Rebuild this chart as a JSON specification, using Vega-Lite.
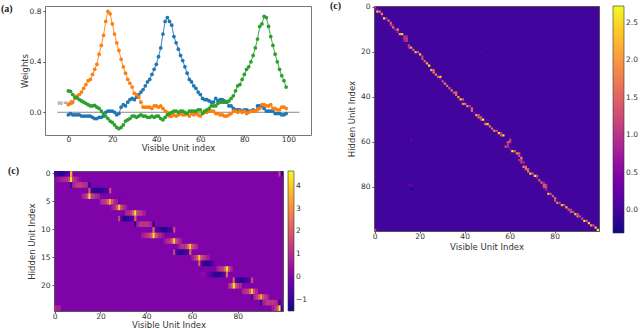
{"$schema":"https://vega.github.io/schema/vega-lite/v6.json","padding":0,"autosize":{"type":"pad"},"background":"white","bounds":"flush","spacing":329,"config":{"font":"DejaVu Sans","axis":{"grid":false,"labelFontSize":7.5,"titleFontSize":8.5,"titleFontWeight":"normal","tickSize":2,"labelColor":"#333","titleColor":"#333","tickColor":"#555","domain":false,"labelPadding":2},"legend":{"labelFontSize":7.5,"labelColor":"#333"},"title":{"font":"Liberation Serif","fontWeight":"bold","fontSize":10,"color":"#222","anchor":"start","frame":"group"}},"datasets":{"left":[{"x":0,"y":0,"v":-0.9},{"x":1,"y":0,"v":-1.1},{"x":2,"y":0,"v":-1.3},{"x":3,"y":0,"v":-1.3},{"x":4,"y":0,"v":-1.1},{"x":5,"y":0,"v":-0.8},{"x":6,"y":0,"v":-0.5},{"x":7,"y":0,"v":3.4},{"x":98,"y":0,"v":1.5},{"x":99,"y":0,"v":-1.0},{"x":1,"y":1,"v":0.4},{"x":2,"y":1,"v":0.6},{"x":3,"y":1,"v":0.7},{"x":4,"y":1,"v":0.9},{"x":5,"y":1,"v":1.1},{"x":6,"y":1,"v":1.5},{"x":7,"y":1,"v":4.5},{"x":8,"y":1,"v":1.5},{"x":9,"y":1,"v":1.0},{"x":10,"y":1,"v":0.6},{"x":11,"y":1,"v":0.3},{"x":7,"y":2,"v":-1.2},{"x":8,"y":2,"v":0.9},{"x":9,"y":2,"v":1.2},{"x":10,"y":2,"v":1.4},{"x":11,"y":2,"v":1.5},{"x":12,"y":2,"v":1.4},{"x":13,"y":2,"v":1.1},{"x":14,"y":2,"v":0.8},{"x":15,"y":2,"v":-1.2},{"x":15,"y":3,"v":2.0},{"x":16,"y":3,"v":-0.8},{"x":17,"y":3,"v":-1.2},{"x":18,"y":3,"v":-1.3},{"x":19,"y":3,"v":-1.3},{"x":20,"y":3,"v":-1.2},{"x":21,"y":3,"v":-1.1},{"x":22,"y":3,"v":-0.9},{"x":23,"y":3,"v":-0.6},{"x":24,"y":3,"v":1.6},{"x":12,"y":4,"v":0.7},{"x":13,"y":4,"v":1.0},{"x":14,"y":4,"v":1.6},{"x":15,"y":4,"v":4.5},{"x":16,"y":4,"v":1.6},{"x":17,"y":4,"v":1.2},{"x":18,"y":4,"v":1.0},{"x":19,"y":4,"v":0.7},{"x":20,"y":5,"v":0.8},{"x":21,"y":5,"v":1.2},{"x":22,"y":5,"v":1.5},{"x":23,"y":5,"v":2.2},{"x":24,"y":5,"v":3.5},{"x":25,"y":5,"v":2.0},{"x":26,"y":5,"v":1.0},{"x":27,"y":5,"v":0.6},{"x":28,"y":5,"v":-0.3},{"x":25,"y":6,"v":0.6},{"x":26,"y":6,"v":1.0},{"x":27,"y":6,"v":1.9},{"x":28,"y":6,"v":4.1},{"x":29,"y":6,"v":1.9},{"x":30,"y":6,"v":1.0},{"x":31,"y":6,"v":0.6},{"x":31,"y":7,"v":0.8},{"x":32,"y":7,"v":1.0},{"x":33,"y":7,"v":1.3},{"x":34,"y":7,"v":2.2},{"x":35,"y":7,"v":4.5},{"x":36,"y":7,"v":1.8},{"x":37,"y":7,"v":1.3},{"x":38,"y":7,"v":1.0},{"x":39,"y":7,"v":0.7},{"x":28,"y":8,"v":1.5},{"x":29,"y":8,"v":-0.7},{"x":30,"y":8,"v":-1.3},{"x":31,"y":8,"v":-1.3},{"x":32,"y":8,"v":-1.2},{"x":33,"y":8,"v":-1.0},{"x":34,"y":8,"v":-0.6},{"x":35,"y":8,"v":2.0},{"x":35,"y":9,"v":-1.3},{"x":36,"y":9,"v":0.8},{"x":37,"y":9,"v":1.1},{"x":38,"y":9,"v":1.3},{"x":39,"y":9,"v":1.4},{"x":40,"y":9,"v":1.3},{"x":41,"y":9,"v":1.1},{"x":42,"y":9,"v":0.7},{"x":43,"y":9,"v":-1.3},{"x":43,"y":10,"v":2.4},{"x":44,"y":10,"v":-0.4},{"x":45,"y":10,"v":-0.9},{"x":46,"y":10,"v":-1.2},{"x":47,"y":10,"v":-1.3},{"x":48,"y":10,"v":-1.3},{"x":49,"y":10,"v":-1.2},{"x":50,"y":10,"v":-0.9},{"x":51,"y":10,"v":-0.5},{"x":52,"y":10,"v":1.6},{"x":38,"y":11,"v":0.6},{"x":39,"y":11,"v":0.9},{"x":40,"y":11,"v":1.2},{"x":41,"y":11,"v":1.4},{"x":42,"y":11,"v":2.0},{"x":43,"y":11,"v":4.6},{"x":44,"y":11,"v":1.8},{"x":45,"y":11,"v":1.3},{"x":46,"y":11,"v":1.0},{"x":47,"y":11,"v":0.6},{"x":48,"y":12,"v":0.6},{"x":49,"y":12,"v":1.0},{"x":50,"y":12,"v":1.3},{"x":51,"y":12,"v":2.0},{"x":52,"y":12,"v":4.2},{"x":53,"y":12,"v":1.8},{"x":54,"y":12,"v":1.1},{"x":55,"y":12,"v":0.6},{"x":54,"y":13,"v":0.6},{"x":55,"y":13,"v":1.0},{"x":56,"y":13,"v":1.2},{"x":57,"y":13,"v":1.4},{"x":58,"y":13,"v":2.2},{"x":59,"y":13,"v":4.2},{"x":60,"y":13,"v":1.9},{"x":61,"y":13,"v":1.2},{"x":62,"y":13,"v":0.8},{"x":52,"y":14,"v":1.6},{"x":53,"y":14,"v":-0.8},{"x":54,"y":14,"v":-1.2},{"x":55,"y":14,"v":-1.3},{"x":56,"y":14,"v":-1.2},{"x":57,"y":14,"v":-1.0},{"x":58,"y":14,"v":-0.6},{"x":59,"y":14,"v":2.0},{"x":60,"y":15,"v":0.7},{"x":61,"y":15,"v":1.1},{"x":62,"y":15,"v":1.9},{"x":63,"y":15,"v":4.2},{"x":64,"y":15,"v":1.8},{"x":65,"y":15,"v":1.3},{"x":66,"y":15,"v":1.0},{"x":67,"y":15,"v":0.6},{"x":63,"y":16,"v":2.0},{"x":64,"y":16,"v":-0.6},{"x":65,"y":16,"v":-1.2},{"x":66,"y":16,"v":-1.3},{"x":67,"y":16,"v":-1.2},{"x":68,"y":16,"v":-1.0},{"x":69,"y":16,"v":-0.6},{"x":70,"y":16,"v":-0.1},{"x":71,"y":17,"v":0.8},{"x":72,"y":17,"v":1.1},{"x":73,"y":17,"v":1.4},{"x":74,"y":17,"v":2.2},{"x":75,"y":17,"v":4.4},{"x":76,"y":17,"v":1.8},{"x":77,"y":17,"v":0.9},{"x":64,"y":18,"v":0.3},{"x":65,"y":18,"v":0.3},{"x":66,"y":18,"v":0.1},{"x":67,"y":18,"v":-0.2},{"x":68,"y":18,"v":-0.7},{"x":69,"y":18,"v":-1.0},{"x":70,"y":18,"v":-1.3},{"x":71,"y":18,"v":-1.3},{"x":72,"y":18,"v":-1.2},{"x":73,"y":18,"v":-1.0},{"x":74,"y":18,"v":-0.6},{"x":75,"y":18,"v":2.2},{"x":78,"y":19,"v":2.0},{"x":79,"y":19,"v":-0.6},{"x":80,"y":19,"v":-1.1},{"x":81,"y":19,"v":-1.3},{"x":82,"y":19,"v":-1.3},{"x":83,"y":19,"v":-1.1},{"x":84,"y":19,"v":-0.9},{"x":85,"y":19,"v":-0.5},{"x":86,"y":19,"v":1.6},{"x":76,"y":20,"v":1.0},{"x":77,"y":20,"v":1.8},{"x":78,"y":20,"v":4.5},{"x":79,"y":20,"v":1.9},{"x":80,"y":20,"v":1.3},{"x":81,"y":20,"v":0.9},{"x":82,"y":21,"v":0.8},{"x":83,"y":21,"v":1.1},{"x":84,"y":21,"v":1.4},{"x":85,"y":21,"v":2.2},{"x":86,"y":21,"v":4.0},{"x":87,"y":21,"v":1.7},{"x":88,"y":21,"v":0.9},{"x":86,"y":22,"v":-0.8},{"x":87,"y":22,"v":0.9},{"x":88,"y":22,"v":1.3},{"x":89,"y":22,"v":2.0},{"x":90,"y":22,"v":3.5},{"x":91,"y":22,"v":1.9},{"x":92,"y":22,"v":1.2},{"x":93,"y":22,"v":0.7},{"x":90,"y":23,"v":-1.2},{"x":91,"y":23,"v":0.8},{"x":92,"y":23,"v":1.1},{"x":93,"y":23,"v":1.3},{"x":94,"y":23,"v":1.4},{"x":95,"y":23,"v":1.3},{"x":96,"y":23,"v":1.1},{"x":97,"y":23,"v":0.8},{"x":98,"y":23,"v":-1.2},{"x":0,"y":24,"v":0.9},{"x":1,"y":24,"v":0.9},{"x":2,"y":24,"v":0.7},{"x":95,"y":24,"v":0.6},{"x":96,"y":24,"v":1.1},{"x":97,"y":24,"v":1.8},{"x":98,"y":24,"v":4.5},{"x":99,"y":24,"v":-0.8}],"right":[{"x":0,"y":0,"v":1.0},{"x":0,"y":1,"v":0.7},{"x":1,"y":1,"v":0.5},{"x":1,"y":2,"v":2.3},{"x":2,"y":2,"v":1.7},{"x":3,"y":3,"v":1.8},{"x":3,"y":4,"v":0.5},{"x":4,"y":5,"v":2.6},{"x":5,"y":5,"v":1.0},{"x":6,"y":6,"v":1.6},{"x":7,"y":7,"v":1.4},{"x":7,"y":8,"v":1.1},{"x":8,"y":8,"v":0.6},{"x":8,"y":9,"v":1.7},{"x":10,"y":10,"v":2.2},{"x":9,"y":10,"v":0.8},{"x":10,"y":11,"v":0.7},{"x":11,"y":12,"v":2.0},{"x":12,"y":12,"v":2.4},{"x":13,"y":13,"v":1.0},{"x":14,"y":13,"v":0.9},{"x":13,"y":14,"v":1.1},{"x":14,"y":14,"v":1.3},{"x":13,"y":15,"v":0.7},{"x":14,"y":15,"v":1.1},{"x":15,"y":17,"v":1.2},{"x":16,"y":18,"v":2.2},{"x":15,"y":18,"v":1.0},{"x":17,"y":19,"v":1.4},{"x":18,"y":20,"v":2.3},{"x":19,"y":20,"v":1.3},{"x":20,"y":21,"v":2.4},{"x":21,"y":22,"v":1.2},{"x":21,"y":23,"v":1.3},{"x":22,"y":24,"v":1.5},{"x":23,"y":25,"v":2.1},{"x":24,"y":26,"v":2.7},{"x":25,"y":27,"v":0.4},{"x":25,"y":28,"v":2.3},{"x":26,"y":28,"v":1.5},{"x":26,"y":29,"v":1.9},{"x":27,"y":30,"v":1.8},{"x":28,"y":31,"v":1.5},{"x":29,"y":31,"v":2.4},{"x":29,"y":32,"v":0.4},{"x":30,"y":33,"v":1.3},{"x":31,"y":34,"v":1.8},{"x":32,"y":35,"v":1.6},{"x":33,"y":36,"v":1.4},{"x":34,"y":37,"v":1.8},{"x":35,"y":38,"v":1.4},{"x":36,"y":38,"v":1.7},{"x":36,"y":39,"v":1.6},{"x":37,"y":40,"v":2.0},{"x":38,"y":41,"v":2.5},{"x":39,"y":41,"v":1.4},{"x":39,"y":43,"v":1.8},{"x":40,"y":43,"v":1.6},{"x":41,"y":44,"v":2.0},{"x":42,"y":44,"v":1.0},{"x":43,"y":45,"v":1.5},{"x":43,"y":46,"v":1.7},{"x":44,"y":47,"v":0.4},{"x":45,"y":48,"v":2.2},{"x":46,"y":48,"v":1.3},{"x":46,"y":49,"v":1.6},{"x":47,"y":49,"v":1.5},{"x":48,"y":50,"v":2.7},{"x":47,"y":50,"v":1.2},{"x":49,"y":51,"v":0.4},{"x":49,"y":52,"v":1.7},{"x":50,"y":52,"v":2.6},{"x":51,"y":53,"v":1.6},{"x":52,"y":54,"v":1.6},{"x":53,"y":55,"v":1.9},{"x":54,"y":55,"v":1.1},{"x":55,"y":56,"v":2.4},{"x":56,"y":56,"v":1.0},{"x":56,"y":57,"v":1.3},{"x":57,"y":57,"v":2.5},{"x":60,"y":59,"v":1.2},{"x":59,"y":60,"v":1.3},{"x":60,"y":60,"v":1.1},{"x":59,"y":61,"v":1.1},{"x":58,"y":62,"v":1.3},{"x":59,"y":62,"v":1.0},{"x":60,"y":63,"v":0.5},{"x":61,"y":64,"v":2.7},{"x":62,"y":64,"v":1.5},{"x":63,"y":65,"v":1.8},{"x":64,"y":65,"v":1.4},{"x":64,"y":66,"v":1.3},{"x":65,"y":67,"v":1.9},{"x":64,"y":68,"v":0.9},{"x":65,"y":68,"v":1.2},{"x":65,"y":69,"v":1.1},{"x":66,"y":69,"v":1.0},{"x":66,"y":70,"v":0.4},{"x":66,"y":71,"v":1.9},{"x":67,"y":71,"v":1.6},{"x":67,"y":72,"v":1.6},{"x":68,"y":72,"v":1.3},{"x":68,"y":73,"v":1.7},{"x":69,"y":74,"v":2.5},{"x":70,"y":74,"v":1.3},{"x":71,"y":75,"v":2.6},{"x":72,"y":75,"v":1.3},{"x":72,"y":76,"v":0.6},{"x":73,"y":77,"v":1.5},{"x":74,"y":78,"v":1.6},{"x":75,"y":78,"v":0.8},{"x":75,"y":79,"v":1.5},{"x":76,"y":79,"v":1.1},{"x":75,"y":80,"v":1.3},{"x":76,"y":80,"v":1.2},{"x":76,"y":81,"v":0.9},{"x":77,"y":82,"v":0.4},{"x":77,"y":83,"v":2.3},{"x":78,"y":83,"v":1.3},{"x":79,"y":84,"v":1.5},{"x":80,"y":85,"v":1.7},{"x":80,"y":86,"v":1.3},{"x":81,"y":87,"v":1.9},{"x":82,"y":87,"v":1.0},{"x":83,"y":88,"v":2.2},{"x":84,"y":88,"v":1.2},{"x":85,"y":89,"v":2.3},{"x":86,"y":90,"v":1.5},{"x":87,"y":90,"v":1.0},{"x":87,"y":91,"v":1.4},{"x":88,"y":91,"v":1.2},{"x":89,"y":92,"v":2.4},{"x":90,"y":92,"v":1.2},{"x":90,"y":93,"v":1.7},{"x":91,"y":93,"v":1.1},{"x":92,"y":94,"v":1.2},{"x":93,"y":95,"v":2.6},{"x":94,"y":95,"v":1.4},{"x":95,"y":96,"v":2.4},{"x":96,"y":97,"v":2.0},{"x":97,"y":97,"v":1.2},{"x":98,"y":98,"v":2.3},{"x":99,"y":99,"v":2.7},{"x":0,"y":99,"v":1.2},{"x":16,"y":59,"v":0.35},{"x":16,"y":79,"v":0.3},{"x":15,"y":79,"v":0.25},{"x":16,"y":81,"v":-0.25},{"x":17,"y":81,"v":-0.2},{"x":36,"y":13,"v":-0.15},{"x":80,"y":30,"v":0.2},{"x":47,"y":20,"v":0.18},{"x":94,"y":66,"v":0.2},{"x":75,"y":25,"v":-0.15}]},"hconcat":[{"bounds":"flush","spacing":36,"vconcat":[{"width":266,"height":129,"title":{"text":"(a)","dx":-44,"dy":8,"offset":0},"view":{"stroke":"#777","strokeWidth":1},"data":{"values":[{"x":-5,"w":0,"s":"w=0","ty":0.07}]},"layer":[{"mark":{"type":"line","color":"#888","strokeWidth":1},"data":{"values":[{"x":-5,"w":0},{"x":105,"w":0}]},"encoding":{"x":{"field":"x","type":"quantitative","scale":{"domain":[-10.6,110.3],"nice":false,"zero":false},"axis":{"values":[0,20,40,60,80,100],"title":"Visible Unit index","labelPadding":-2,"titlePadding":1}},"y":{"field":"w","type":"quantitative","scale":{"domain":[-0.18,0.842],"nice":false,"zero":false},"axis":{"values":[0,0.2,0.4,0.6,0.8],"format":".1f","title":"Weights","titlePadding":0}}}},{"mark":{"type":"text","align":"left","fontSize":7,"color":"#777"},"encoding":{"x":{"field":"x","type":"quantitative"},"y":{"field":"ty","type":"quantitative"},"text":{"field":"s"}}},{"data":{"values":[{"s":"A","x":0,"w":-0.02},{"s":"A","x":1,"w":-0.01},{"s":"A","x":2,"w":-0.02},{"s":"A","x":3,"w":-0.02},{"s":"A","x":4,"w":-0.02},{"s":"A","x":5,"w":-0.02},{"s":"A","x":6,"w":-0.03},{"s":"A","x":7,"w":-0.03},{"s":"A","x":8,"w":-0.03},{"s":"A","x":9,"w":-0.03},{"s":"A","x":10,"w":-0.03},{"s":"A","x":11,"w":-0.04},{"s":"A","x":12,"w":-0.05},{"s":"A","x":13,"w":-0.05},{"s":"A","x":14,"w":-0.04},{"s":"A","x":15,"w":-0.04},{"s":"A","x":16,"w":-0.03},{"s":"A","x":17,"w":0},{"s":"A","x":18,"w":0.01},{"s":"A","x":19,"w":0.01},{"s":"A","x":20,"w":0.01},{"s":"A","x":21,"w":0},{"s":"A","x":22,"w":-0.02},{"s":"A","x":23,"w":-0.01},{"s":"A","x":24,"w":0.04},{"s":"A","x":25,"w":0.06},{"s":"A","x":26,"w":0.05},{"s":"A","x":27,"w":0.08},{"s":"A","x":28,"w":0.1},{"s":"A","x":29,"w":0.11},{"s":"A","x":30,"w":0.1},{"s":"A","x":31,"w":0.12},{"s":"A","x":32,"w":0.14},{"s":"A","x":33,"w":0.16},{"s":"A","x":34,"w":0.18},{"s":"A","x":35,"w":0.21},{"s":"A","x":36,"w":0.24},{"s":"A","x":37,"w":0.26},{"s":"A","x":38,"w":0.3},{"s":"A","x":39,"w":0.34},{"s":"A","x":40,"w":0.38},{"s":"A","x":41,"w":0.44},{"s":"A","x":42,"w":0.51},{"s":"A","x":43,"w":0.62},{"s":"A","x":44,"w":0.72},{"s":"A","x":45,"w":0.75},{"s":"A","x":46,"w":0.72},{"s":"A","x":47,"w":0.69},{"s":"A","x":48,"w":0.6},{"s":"A","x":49,"w":0.55},{"s":"A","x":50,"w":0.5},{"s":"A","x":51,"w":0.45},{"s":"A","x":52,"w":0.41},{"s":"A","x":53,"w":0.36},{"s":"A","x":54,"w":0.31},{"s":"A","x":55,"w":0.26},{"s":"A","x":56,"w":0.24},{"s":"A","x":57,"w":0.21},{"s":"A","x":58,"w":0.19},{"s":"A","x":59,"w":0.16},{"s":"A","x":60,"w":0.14},{"s":"A","x":61,"w":0.11},{"s":"A","x":62,"w":0.1},{"s":"A","x":63,"w":0.1},{"s":"A","x":64,"w":0.09},{"s":"A","x":65,"w":0.08},{"s":"A","x":66,"w":0.08},{"s":"A","x":67,"w":0.11},{"s":"A","x":68,"w":0.09},{"s":"A","x":69,"w":0.1},{"s":"A","x":70,"w":0.1},{"s":"A","x":71,"w":0.09},{"s":"A","x":72,"w":0.08},{"s":"A","x":73,"w":0.05},{"s":"A","x":74,"w":0.05},{"s":"A","x":75,"w":0.03},{"s":"A","x":76,"w":0.02},{"s":"A","x":77,"w":0.02},{"s":"A","x":78,"w":0.02},{"s":"A","x":79,"w":0.01},{"s":"A","x":80,"w":0.02},{"s":"A","x":81,"w":0.02},{"s":"A","x":82,"w":0.01},{"s":"A","x":83,"w":0.01},{"s":"A","x":84,"w":0.02},{"s":"A","x":85,"w":0.01},{"s":"A","x":86,"w":0.05},{"s":"A","x":87,"w":0.05},{"s":"A","x":88,"w":0.05},{"s":"A","x":89,"w":0.03},{"s":"A","x":90,"w":0.01},{"s":"A","x":91,"w":0.01},{"s":"A","x":92,"w":0.01},{"s":"A","x":93,"w":0.01},{"s":"A","x":94,"w":-0.01},{"s":"A","x":95,"w":-0.01},{"s":"A","x":96,"w":-0.01},{"s":"A","x":97,"w":-0.02},{"s":"A","x":98,"w":-0.02},{"s":"A","x":99,"w":-0.01},{"s":"B","x":0,"w":0.06},{"s":"B","x":1,"w":0.07},{"s":"B","x":2,"w":0.08},{"s":"B","x":3,"w":0.11},{"s":"B","x":4,"w":0.13},{"s":"B","x":5,"w":0.14},{"s":"B","x":6,"w":0.16},{"s":"B","x":7,"w":0.19},{"s":"B","x":8,"w":0.22},{"s":"B","x":9,"w":0.25},{"s":"B","x":10,"w":0.26},{"s":"B","x":11,"w":0.3},{"s":"B","x":12,"w":0.34},{"s":"B","x":13,"w":0.38},{"s":"B","x":14,"w":0.46},{"s":"B","x":15,"w":0.53},{"s":"B","x":16,"w":0.61},{"s":"B","x":17,"w":0.72},{"s":"B","x":18,"w":0.8},{"s":"B","x":19,"w":0.78},{"s":"B","x":20,"w":0.7},{"s":"B","x":21,"w":0.62},{"s":"B","x":22,"w":0.55},{"s":"B","x":23,"w":0.49},{"s":"B","x":24,"w":0.42},{"s":"B","x":25,"w":0.36},{"s":"B","x":26,"w":0.31},{"s":"B","x":27,"w":0.26},{"s":"B","x":28,"w":0.23},{"s":"B","x":29,"w":0.2},{"s":"B","x":30,"w":0.15},{"s":"B","x":31,"w":0.14},{"s":"B","x":32,"w":0.12},{"s":"B","x":33,"w":0.08},{"s":"B","x":34,"w":0.04},{"s":"B","x":35,"w":0.04},{"s":"B","x":36,"w":0.04},{"s":"B","x":37,"w":0.04},{"s":"B","x":38,"w":0.03},{"s":"B","x":39,"w":0.05},{"s":"B","x":40,"w":0.05},{"s":"B","x":41,"w":0.04},{"s":"B","x":42,"w":0.05},{"s":"B","x":43,"w":0.03},{"s":"B","x":44,"w":0.01},{"s":"B","x":45,"w":0},{"s":"B","x":46,"w":-0.03},{"s":"B","x":47,"w":-0.03},{"s":"B","x":48,"w":-0.02},{"s":"B","x":49,"w":-0.03},{"s":"B","x":50,"w":-0.02},{"s":"B","x":51,"w":-0.01},{"s":"B","x":52,"w":-0.02},{"s":"B","x":53,"w":-0.02},{"s":"B","x":54,"w":-0.01},{"s":"B","x":55,"w":-0.03},{"s":"B","x":56,"w":-0.01},{"s":"B","x":57,"w":-0.02},{"s":"B","x":58,"w":-0.01},{"s":"B","x":59,"w":-0.02},{"s":"B","x":60,"w":-0.03},{"s":"B","x":61,"w":0},{"s":"B","x":62,"w":0},{"s":"B","x":63,"w":0},{"s":"B","x":64,"w":0.01},{"s":"B","x":65,"w":0.01},{"s":"B","x":66,"w":0.01},{"s":"B","x":67,"w":-0.01},{"s":"B","x":68,"w":-0.01},{"s":"B","x":69,"w":-0.02},{"s":"B","x":70,"w":-0.02},{"s":"B","x":71,"w":-0.03},{"s":"B","x":72,"w":-0.03},{"s":"B","x":73,"w":-0.02},{"s":"B","x":74,"w":-0.01},{"s":"B","x":75,"w":0.01},{"s":"B","x":76,"w":0.01},{"s":"B","x":77,"w":0},{"s":"B","x":78,"w":0.01},{"s":"B","x":79,"w":0},{"s":"B","x":80,"w":0.01},{"s":"B","x":81,"w":-0.01},{"s":"B","x":82,"w":0},{"s":"B","x":83,"w":0.01},{"s":"B","x":84,"w":0.01},{"s":"B","x":85,"w":0.01},{"s":"B","x":86,"w":0.02},{"s":"B","x":87,"w":0.03},{"s":"B","x":88,"w":0.06},{"s":"B","x":89,"w":0.06},{"s":"B","x":90,"w":0.05},{"s":"B","x":91,"w":0.05},{"s":"B","x":92,"w":0.06},{"s":"B","x":93,"w":0.03},{"s":"B","x":94,"w":0.03},{"s":"B","x":95,"w":0.02},{"s":"B","x":96,"w":0.02},{"s":"B","x":97,"w":0.04},{"s":"B","x":98,"w":0.04},{"s":"B","x":99,"w":0.03},{"s":"C","x":0,"w":0.17},{"s":"C","x":1,"w":0.165},{"s":"C","x":2,"w":0.14},{"s":"C","x":3,"w":0.12},{"s":"C","x":4,"w":0.115},{"s":"C","x":5,"w":0.1},{"s":"C","x":6,"w":0.09},{"s":"C","x":7,"w":0.08},{"s":"C","x":8,"w":0.07},{"s":"C","x":9,"w":0.06},{"s":"C","x":10,"w":0.05},{"s":"C","x":11,"w":0.05},{"s":"C","x":12,"w":0.055},{"s":"C","x":13,"w":0.04},{"s":"C","x":14,"w":0.03},{"s":"C","x":15,"w":0.01},{"s":"C","x":16,"w":-0.01},{"s":"C","x":17,"w":-0.03},{"s":"C","x":18,"w":-0.05},{"s":"C","x":19,"w":-0.07},{"s":"C","x":20,"w":-0.08},{"s":"C","x":21,"w":-0.1},{"s":"C","x":22,"w":-0.12},{"s":"C","x":23,"w":-0.13},{"s":"C","x":24,"w":-0.12},{"s":"C","x":25,"w":-0.1},{"s":"C","x":26,"w":-0.07},{"s":"C","x":27,"w":-0.06},{"s":"C","x":28,"w":-0.05},{"s":"C","x":29,"w":-0.03},{"s":"C","x":30,"w":-0.03},{"s":"C","x":31,"w":-0.04},{"s":"C","x":32,"w":-0.03},{"s":"C","x":33,"w":-0.02},{"s":"C","x":34,"w":-0.03},{"s":"C","x":35,"w":-0.03},{"s":"C","x":36,"w":-0.04},{"s":"C","x":37,"w":-0.04},{"s":"C","x":38,"w":-0.03},{"s":"C","x":39,"w":-0.04},{"s":"C","x":40,"w":-0.03},{"s":"C","x":41,"w":-0.03},{"s":"C","x":42,"w":-0.05},{"s":"C","x":43,"w":-0.06},{"s":"C","x":44,"w":-0.04},{"s":"C","x":45,"w":-0.02},{"s":"C","x":46,"w":-0.01},{"s":"C","x":47,"w":0},{"s":"C","x":48,"w":0.01},{"s":"C","x":49,"w":0.01},{"s":"C","x":50,"w":0},{"s":"C","x":51,"w":0.01},{"s":"C","x":52,"w":0.01},{"s":"C","x":53,"w":0},{"s":"C","x":54,"w":-0.01},{"s":"C","x":55,"w":0.01},{"s":"C","x":56,"w":0.01},{"s":"C","x":57,"w":0.01},{"s":"C","x":58,"w":0.01},{"s":"C","x":59,"w":0.02},{"s":"C","x":60,"w":0.02},{"s":"C","x":61,"w":-0.01},{"s":"C","x":62,"w":0.01},{"s":"C","x":63,"w":0.02},{"s":"C","x":64,"w":0.03},{"s":"C","x":65,"w":0.05},{"s":"C","x":66,"w":0.05},{"s":"C","x":67,"w":0.05},{"s":"C","x":68,"w":0.07},{"s":"C","x":69,"w":0.08},{"s":"C","x":70,"w":0.08},{"s":"C","x":71,"w":0.08},{"s":"C","x":72,"w":0.08},{"s":"C","x":73,"w":0.09},{"s":"C","x":74,"w":0.11},{"s":"C","x":75,"w":0.13},{"s":"C","x":76,"w":0.17},{"s":"C","x":77,"w":0.21},{"s":"C","x":78,"w":0.22},{"s":"C","x":79,"w":0.26},{"s":"C","x":80,"w":0.3},{"s":"C","x":81,"w":0.34},{"s":"C","x":82,"w":0.36},{"s":"C","x":83,"w":0.4},{"s":"C","x":84,"w":0.45},{"s":"C","x":85,"w":0.51},{"s":"C","x":86,"w":0.58},{"s":"C","x":87,"w":0.68},{"s":"C","x":88,"w":0.7},{"s":"C","x":89,"w":0.76},{"s":"C","x":90,"w":0.75},{"s":"C","x":91,"w":0.68},{"s":"C","x":92,"w":0.6},{"s":"C","x":93,"w":0.53},{"s":"C","x":94,"w":0.46},{"s":"C","x":95,"w":0.4},{"s":"C","x":96,"w":0.34},{"s":"C","x":97,"w":0.29},{"s":"C","x":98,"w":0.25},{"s":"C","x":99,"w":0.2}]},"mark":{"type":"line","strokeWidth":0.9,"point":{"size":14,"filled":true,"opacity":1}},"encoding":{"x":{"field":"x","type":"quantitative"},"y":{"field":"w","type":"quantitative"},"color":{"field":"s","type":"nominal","legend":null,"scale":{"domain":["A","B","C"],"range":["#1f77b4","#ff7f0e","#2ca02c"]}}}}]},{"bounds":"flush","spacing":0,"hconcat":[{"width":9,"height":1,"view":{"stroke":null},"mark":{"type":"rule","opacity":0},"encoding":{}},{"width":229,"height":140,"title":{"text":"(c)","dx":-46,"dy":7,"offset":0},"view":{"fill":"#7e03a8","stroke":"#555"},"data":{"name":"left"},"mark":{"type":"rect"},"encoding":{"x":{"field":"x","type":"ordinal","scale":{"domain":[0,1,2,3,4,5,6,7,8,9,10,11,12,13,14,15,16,17,18,19,20,21,22,23,24,25,26,27,28,29,30,31,32,33,34,35,36,37,38,39,40,41,42,43,44,45,46,47,48,49,50,51,52,53,54,55,56,57,58,59,60,61,62,63,64,65,66,67,68,69,70,71,72,73,74,75,76,77,78,79,80,81,82,83,84,85,86,87,88,89,90,91,92,93,94,95,96,97,98,99],"paddingInner":0,"paddingOuter":0},"axis":{"values":[0,20,40,60,80],"labelAngle":0,"title":"Visible Unit Index","labelPadding":-1,"titlePadding":1}},"y":{"field":"y","type":"ordinal","scale":{"domain":[0,1,2,3,4,5,6,7,8,9,10,11,12,13,14,15,16,17,18,19,20,21,22,23,24],"paddingInner":0,"paddingOuter":0},"axis":{"values":[0,5,10,15,20],"title":"Hidden Unit Index"}},"color":{"field":"v","type":"quantitative","scale":{"scheme":"plasma","domain":[-1.5,4.65],"nice":false,"zero":false},"legend":{"orient":"none","legendX":243,"legendY":0,"title":null,"gradientLength":140,"gradientThickness":6,"gradientStrokeColor":"#333","gradientStrokeWidth":0.6,"values":[-1,0,1,2,3,4],"tickCount":6}}}}]}]},{"width":225,"height":225,"title":{"text":"(c)","dx":-44,"dy":8,"offset":0},"view":{"fill":"#41049d","stroke":"#555"},"data":{"name":"right"},"mark":{"type":"rect"},"encoding":{"x":{"field":"x","type":"ordinal","scale":{"domain":[0,1,2,3,4,5,6,7,8,9,10,11,12,13,14,15,16,17,18,19,20,21,22,23,24,25,26,27,28,29,30,31,32,33,34,35,36,37,38,39,40,41,42,43,44,45,46,47,48,49,50,51,52,53,54,55,56,57,58,59,60,61,62,63,64,65,66,67,68,69,70,71,72,73,74,75,76,77,78,79,80,81,82,83,84,85,86,87,88,89,90,91,92,93,94,95,96,97,98,99],"paddingInner":0,"paddingOuter":0},"axis":{"values":[0,20,40,60,80],"labelAngle":0,"title":"Visible Unit Index","labelPadding":-1,"titlePadding":3}},"y":{"field":"y","type":"ordinal","scale":{"domain":[0,1,2,3,4,5,6,7,8,9,10,11,12,13,14,15,16,17,18,19,20,21,22,23,24,25,26,27,28,29,30,31,32,33,34,35,36,37,38,39,40,41,42,43,44,45,46,47,48,49,50,51,52,53,54,55,56,57,58,59,60,61,62,63,64,65,66,67,68,69,70,71,72,73,74,75,76,77,78,79,80,81,82,83,84,85,86,87,88,89,90,91,92,93,94,95,96,97,98,99],"paddingInner":0,"paddingOuter":0},"axis":{"values":[0,20,40,60,80],"title":"Hidden Unit Index"}},"color":{"field":"v","type":"quantitative","scale":{"scheme":"plasma","domain":[-0.3,2.72],"nice":false,"zero":false},"legend":{"orient":"none","legendX":239,"legendY":0,"title":null,"gradientLength":227,"gradientThickness":11,"gradientStrokeColor":"#333","gradientStrokeWidth":0.6,"values":[0,0.5,1,1.5,2,2.5],"format":".1f"}}}}],"resolve":{"scale":{"color":"independent","x":"independent","y":"independent"},"legend":{"color":"independent"}}}
